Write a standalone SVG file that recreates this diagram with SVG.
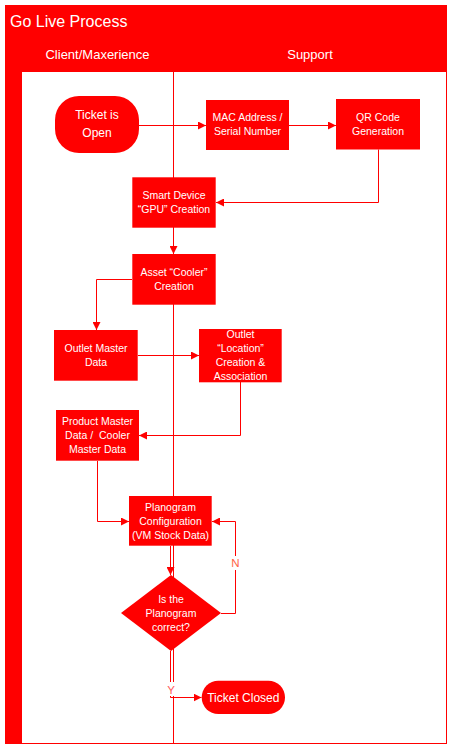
<svg xmlns="http://www.w3.org/2000/svg" width="450" height="747" viewBox="0 0 450 747">
  <defs>
    <marker id="arr" markerUnits="userSpaceOnUse" markerWidth="8" markerHeight="8" refX="8" refY="4" orient="auto">
      <path d="M0,0 L8,4 L0,8 z" fill="#FF0000"/>
    </marker>
    <style>
      .lane-title { font-family: "Liberation Sans", Arial, sans-serif; font-size: 13px; fill: #FFFFFF; text-anchor: middle; }
      .node { fill: #FF0000; }
      .t { font-family: "Liberation Sans", Arial, sans-serif; font-size: 10.5px; fill: #FFFFFF; text-anchor: middle; }
      .tl { font-family: "Liberation Sans", Arial, sans-serif; font-size: 12px; fill: #FFFFFF; text-anchor: middle; }
      .conn { fill: none; stroke: #FF0000; stroke-width: 1; }
      .lbl { font-family: "Liberation Sans", Arial, sans-serif; font-size: 11.5px; text-anchor: middle; }
    </style>
  </defs>

  <g id="swimlane">
    <rect x="5" y="5" width="442" height="739" fill="#FF0000"/>
    <rect x="22" y="72" width="424" height="671" fill="#FFFFFF"/>
    <text x="10" y="26.7" font-family="Liberation Sans, Arial, sans-serif" font-size="16" fill="#FFFFFF">Go Live Process</text>
    <text class="lane-title" x="97.5" y="59">Client/Maxerience</text>
    <text class="lane-title" x="310" y="59">Support</text>
    <line x1="173.5" y1="72" x2="173.5" y2="743" stroke="#FF0000" stroke-width="1"/>
  </g>

  <g id="connectors">
    <path class="conn" d="M139,125.5 H206" marker-end="url(#arr)"/>
    <path class="conn" d="M289,125.5 H336" marker-end="url(#arr)"/>
    <path class="conn" d="M378.5,149.5 V202.5 H216" marker-end="url(#arr)"/>
    <path class="conn" d="M173.5,228 V254" marker-end="url(#arr)"/>
    <path class="conn" d="M132,279.5 H96.5 V330" marker-end="url(#arr)"/>
    <path class="conn" d="M138,355.5 H199" marker-end="url(#arr)"/>
    <path class="conn" d="M240.5,382 V435.5 H139" marker-end="url(#arr)"/>
    <path class="conn" d="M97.5,461 V521.5 H129" marker-end="url(#arr)"/>
    <path class="conn" d="M170.5,546 V575" marker-end="url(#arr)"/>
    <path class="conn" d="M221,613.5 H235.5 V521.5 H212" marker-end="url(#arr)"/>
    <path class="conn" d="M170.5,651 V697.5 H201.5" marker-end="url(#arr)"/>
    <rect x="229" y="556" width="13" height="14" fill="#FFFFFF"/>
    <text class="lbl" x="235.5" y="567" fill="#FF6347">N</text>
    <rect x="165" y="682" width="12" height="14" fill="#FFFFFF"/>
    <text class="lbl" x="171" y="693.5" fill="#FF5A5A">Y</text>
  </g>

  <g id="ticket-open">
    <rect class="node" x="55" y="96" width="84" height="57" rx="24" ry="24"/>
    <text class="tl" x="97" y="119.3">Ticket is</text>
    <text class="tl" x="97" y="136.5">Open</text>
  </g>

  <g id="mac-address">
    <rect class="node" x="206" y="100" width="83" height="50"/>
    <text class="t" x="247.5" y="121">MAC Address /</text>
    <text class="t" x="247.5" y="134.7">Serial Number</text>
  </g>

  <g id="qr-code">
    <rect class="node" x="336" y="99" width="84" height="50.5"/>
    <text class="t" x="378" y="121">QR Code</text>
    <text class="t" x="378" y="134.7">Generation</text>
  </g>

  <g id="smart-device">
    <rect class="node" x="132.3" y="177.3" width="83.4" height="50.4"/>
    <text class="t" x="174" y="198.7">Smart Device</text>
    <text class="t" x="174" y="212.7">“GPU” Creation</text>
  </g>

  <g id="asset-cooler">
    <rect class="node" x="132.3" y="254" width="83.4" height="50.7"/>
    <text class="t" x="174" y="276">Asset “Cooler”</text>
    <text class="t" x="174" y="289.7">Creation</text>
  </g>

  <g id="outlet-master">
    <rect class="node" x="54" y="330" width="83.7" height="50.7"/>
    <text class="t" x="96" y="352">Outlet Master</text>
    <text class="t" x="96" y="365.7">Data</text>
  </g>

  <g id="outlet-location">
    <rect class="node" x="199" y="329" width="82.7" height="53.3"/>
    <text class="t" x="240.5" y="337.7">Outlet</text>
    <text class="t" x="240.5" y="352">“Location”</text>
    <text class="t" x="240.5" y="366">Creation &amp;</text>
    <text class="t" x="240.5" y="379.7">Association</text>
  </g>

  <g id="product-master">
    <rect class="node" x="56" y="410" width="83" height="50.7"/>
    <text class="t" x="97.5" y="424.7">Product Master</text>
    <text class="t" x="97.5" y="438.7" xml:space="preserve">Data /  Cooler</text>
    <text class="t" x="97.5" y="452.7">Master Data</text>
  </g>

  <g id="planogram-config">
    <rect class="node" x="129" y="496" width="82.7" height="49.7"/>
    <text class="t" x="170.5" y="511">Planogram</text>
    <text class="t" x="170.5" y="525">Configuration</text>
    <text class="t" x="170.5" y="539">(VM Stock Data)</text>
  </g>

  <g id="planogram-decision">
    <polygon class="node" points="171,575 221,613 171,651 121,613"/>
    <text class="t" x="171" y="603">Is the</text>
    <text class="t" x="171" y="617">Planogram</text>
    <text class="t" x="171" y="631">correct?</text>
  </g>

  <g id="ticket-closed">
    <rect class="node" x="201.7" y="680.7" width="83.3" height="33.3" rx="16.6" ry="16.6"/>
    <text class="tl" x="243.3" y="701.5">Ticket Closed</text>
  </g>
</svg>
